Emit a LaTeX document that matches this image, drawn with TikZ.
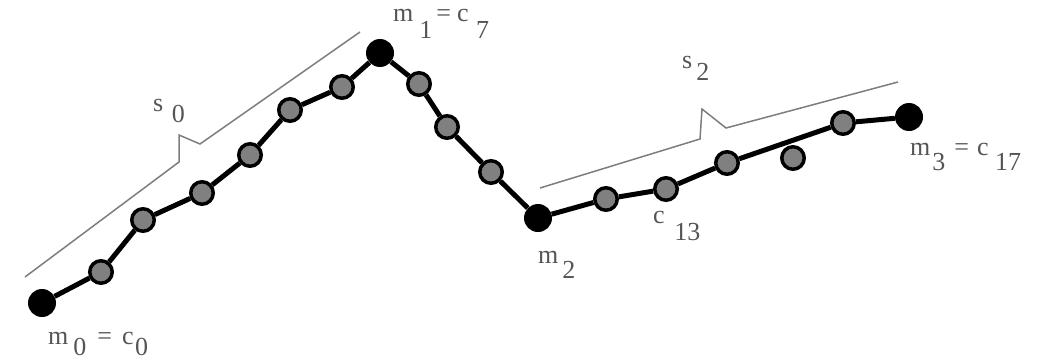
\documentclass[tikz,border=0pt]{standalone}
\usepackage{fontspec}
\setmainfont{Liberation Serif}
\definecolor{lblgray}{RGB}{85,85,85}
\definecolor{brgray}{RGB}{125,125,125}
\definecolor{dotgray}{RGB}{128,128,128}
\newcommand{\lsub}[2]{\raisebox{-#1pt}{#2}}
\begin{document}
\begin{tikzpicture}[x=1pt,y=-1pt,
  mdot/.style={circle,fill=black,inner sep=0pt,minimum size=28pt},
  cdot/.style={circle,fill=dotgray,draw=black,line width=3.5pt,inner sep=0pt,minimum size=22.5pt},
  polyline/.style={line width=5pt,black},
  bracket/.style={line width=1.5pt,brgray,line join=miter},
  lbl/.style={inner sep=0pt,anchor=base west,text=lblgray,font=\fontsize{26}{26}\selectfont}]
\useasboundingbox (0,0) rectangle (1040,361);
% brackets
\draw[bracket] (25,277) -- (179,162) -- (179,135) -- (200,144) -- (360,32);
\draw[bracket] (540,188) -- (700,139) -- (702,109) -- (726,128) -- (898,82);
% points
\node[mdot] (m0) at (42,303) {};
\node[cdot] (c1) at (101,272) {};
\node[cdot] (c2) at (143,220) {};
\node[cdot] (c3) at (202,193) {};
\node[cdot] (c4) at (250,155) {};
\node[cdot] (c5) at (290,110) {};
\node[cdot] (c6) at (342,87) {};
\node[mdot] (m1) at (380,53) {};
\node[cdot] (c8) at (419,84) {};
\node[cdot] (c9) at (447,127) {};
\node[cdot] (c10) at (491,172) {};
\node[mdot] (m2) at (538,218) {};
\node[cdot] (c12) at (606,199) {};
\node[cdot] (c13) at (666,189) {};
\node[cdot] (c14) at (727,163) {};
\node[cdot] (c15) at (793,158) {};
\node[cdot] (c16) at (843,123) {};
\node[mdot] (m3) at (909,117) {};
% polyline
\draw[polyline] (m0) -- (c1);
\draw[polyline] (c1) -- (c2);
\draw[polyline] (c2) -- (c3);
\draw[polyline] (c3) -- (c4);
\draw[polyline] (c4) -- (c5);
\draw[polyline] (c5) -- (c6);
\draw[polyline] (c6) -- (m1);
\draw[polyline] (m1) -- (c8);
\draw[polyline] (c8) -- (c9);
\draw[polyline] (c9) -- (c10);
\draw[polyline] (c10) -- (m2);
\draw[polyline] (m2) -- (c12);
\draw[polyline] (c12) -- (c13);
\draw[polyline] (c13) -- (c14);
\draw[polyline] (c14) -- (c16);
\draw[polyline] (c16) -- (m3);
% labels
\node[lbl] (lm0) at (48,344) {m\hspace{5pt}\lsub{11}{0}\hspace{11pt}=\hspace{10pt}c\hspace{1.5pt}\lsub{11}{0}};
\node[lbl] (lm1) at (393,22) {m\hspace{6pt}\lsub{17}{1}\hspace{4pt}=\hspace{6pt}c\hspace{7.5pt}\lsub{17}{7}};
\node[lbl] (lm2) at (538,263) {m\hspace{4pt}\lsub{15}{2}};
\node[lbl] (lm3) at (910,155) {m\hspace{2pt}\lsub{15}{3}\hspace{9pt}=\hspace{8pt}c\hspace{6.5pt}\lsub{15}{17}};
\node[lbl] (lc13) at (653,223) {c\hspace{9.5pt}\lsub{17}{13}};
\node[lbl] (ls0) at (153,111) {s\hspace{8.5pt}\lsub{11}{0}};
\node[lbl] (ls2) at (682,68) {s\hspace{4pt}\lsub{13}{2}};
\end{tikzpicture}
\end{document}
